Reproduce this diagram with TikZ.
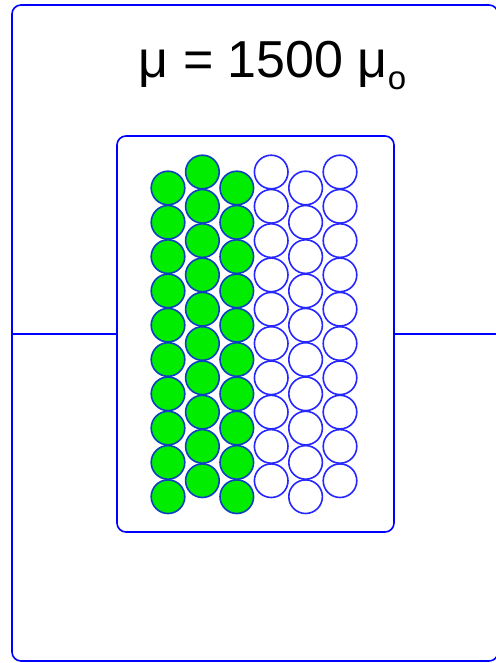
\documentclass[tikz,border=0pt]{standalone}
\usepackage{fontspec}
\setmainfont{Liberation Sans}
\definecolor{grgreen}{rgb}{0,0.93,0}
\definecolor{lnblue}{rgb}{0.15,0.15,1}
\definecolor{dkblue}{rgb}{0.05,0.25,0.75}

\begin{document}
\begin{tikzpicture}[x=1pt,y=-1pt,
	box/.style={draw=blue, line width=1.6pt, rounded corners=9pt, inner sep=0pt},
	grain/.style={circle, draw=lnblue, line width=1.6pt, fill=white, minimum size=33.6pt, inner sep=0pt},
	fullgrain/.style={grain, draw=dkblue, fill=grgreen}]
	\useasboundingbox (0,0) rectangle (495,663);
	% casing and core
	\node[box, minimum width=486pt, minimum height=656pt] (case) at (255,333) {};
	\node[box, minimum width=277pt, minimum height=396pt] (core) at (255.5,334) {};
	\draw [blue, line width=1.6pt] (core.west -| case.west) -- (core.west);
	\draw [blue, line width=1.6pt] (core.east) -- (core.east -| case.east);
	% permeability
	\node[anchor=base, font=\fontsize{52}{52}\selectfont] (mu) at (272.5,78)
		{μ = 1500 μ\raisebox{-12pt}{\fontsize{33}{33}\selectfont o}};
	% aligned grains
	\foreach \col/\top in {1/188,2/172,3/188}
		\foreach \k in {0,...,9}
			\node[fullgrain] (g-\col-\k) at ({168+34.4*(\col-1)},{\top+34.3*\k}) {};
	% free grains
	\foreach \col/\top in {4/172,5/188,6/172}
		\foreach \k in {0,...,9}
			\node[grain] (g-\col-\k) at ({168+34.4*(\col-1)},{\top+34.3*\k}) {};
\end{tikzpicture}
\end{document}
